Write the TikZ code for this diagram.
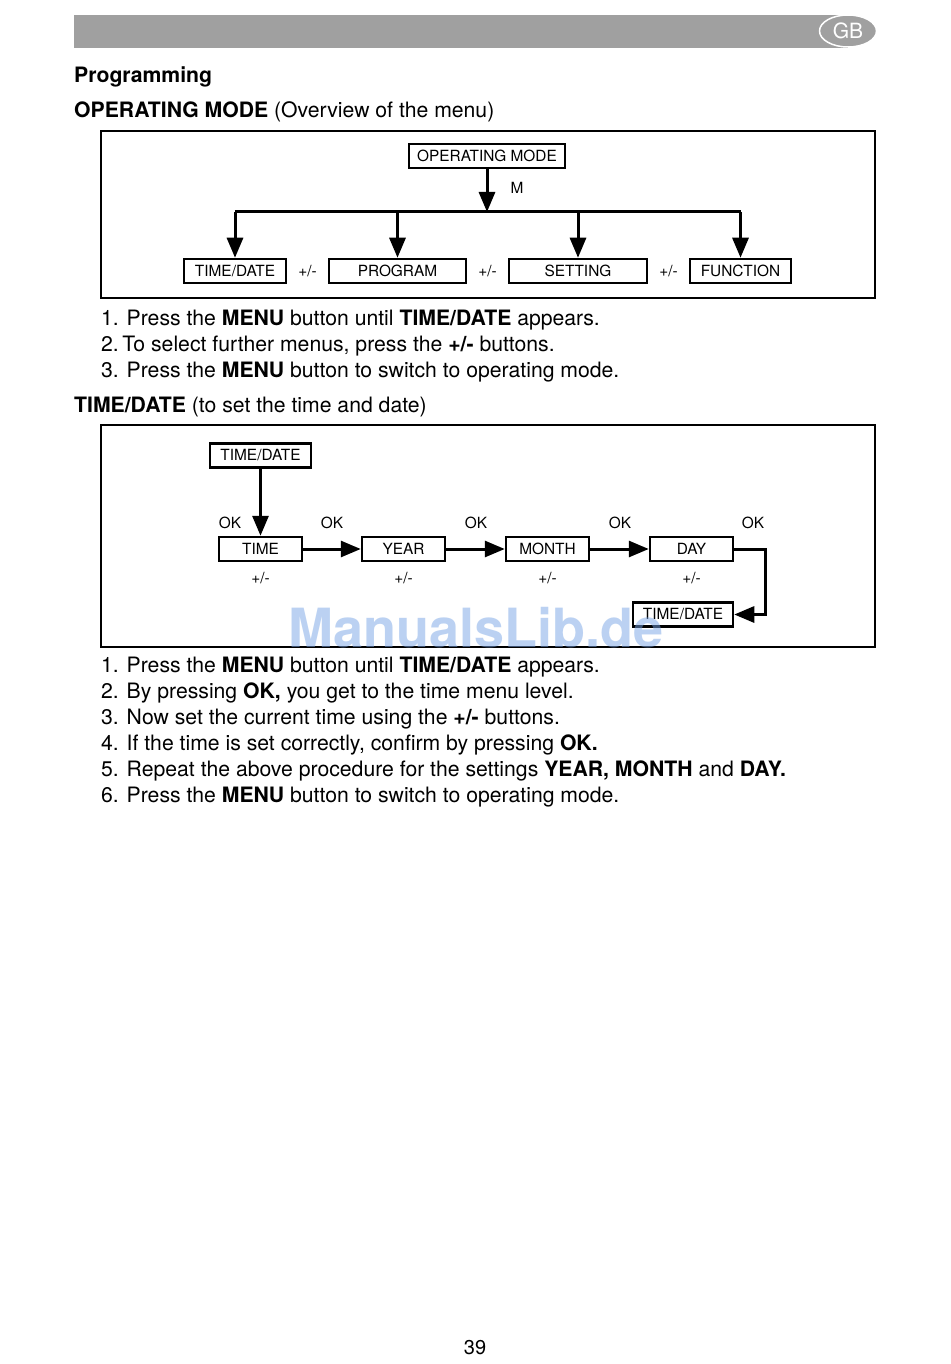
\documentclass[tikz,border=0pt]{standalone}
\usepackage{fontspec}
\setmainfont{TeX Gyre Heros}
\usetikzlibrary{arrows.meta,positioning,calc,shapes.geometric}

\definecolor{bargray}{RGB}{160,160,160}
\definecolor{wmblue}{RGB}{120,165,230}

\tikzset{
  menubox/.style={draw,line width=2.5pt,minimum height=24pt,inner sep=0pt,
    font=\fontsize{15.4}{16}\selectfont},
  lbl/.style={inner sep=0pt,font=\fontsize{15.4}{16}\selectfont},
  arr/.style={line width=3pt,-{Triangle[width=16pt,length=20pt]}},
  txt/.style={anchor=base west,inner sep=0pt,font=\fontsize{21.2}{24}\selectfont}
}

\begin{document}
\begin{tikzpicture}[x=1pt,y=-1pt]
\fill[white] (0,0) rectangle (950,1364);
\useasboundingbox (0,0) rectangle (950,1364);

%header
\fill[bargray] (74,15) rectangle (848,48);
\node[ellipse,draw=white,line width=1.5pt,fill=bargray,minimum width=57pt,
  minimum height=32pt,inner sep=0pt,text=white,font=\fontsize{21}{21}\selectfont]
  (gb) at (848,31) {GB};

\node[txt] (prog) at (74,83) {\textbf{Programming}};
\node[txt] (head1) at (74,118) {\textbf{OPERATING MODE} (Overview of the menu)};

%menu overview
\draw[line width=2pt] (101,131) rectangle (875,298);
\node[menubox,minimum width=156pt] (opmode) at (487,156) {OPERATING MODE};
\node[menubox,minimum width=102pt] (timedate) at (235,271) {TIME/DATE};
\node[menubox,minimum width=137pt] (program) at (397.5,271) {PROGRAM};
\node[menubox,minimum width=138pt] (setting) at (578,271) {SETTING};
\node[menubox,minimum width=101pt] (function) at (740.5,271) {FUNCTION};
\coordinate (split) at (487,212);

\draw[arr] (opmode) -- (split);
\node[lbl] (m) at (517,188) {M};
\draw[line width=3pt] (timedate.north |- split) -- (function.north |- split);
\foreach \n in {timedate,program,setting,function}
  \draw[arr] (\n.north |- split) -- (\n.north);

\node[lbl] (pm1) at ($(timedate.east)!.5!(program.west)$) {+/-};
\node[lbl] (pm2) at ($(program.east)!.5!(setting.west)$) {+/-};
\node[lbl] (pm3) at ($(setting.east)!.5!(function.west)$) {+/-};

\node[txt] (a1) at (101,325) {1. Press the \textbf{MENU} button until \textbf{TIME/DATE} appears.};
\node[txt] (a2) at (101,351) {2.\,To select further menus, press the \textbf{+/-} buttons.};
\node[txt] (a3) at (101,377) {3. Press the \textbf{MENU} button to switch to operating mode.};

\node[txt] (head2) at (74,412) {\textbf{TIME/DATE} (to set the time and date)};

%time and date
\draw[line width=2pt] (101,425) rectangle (875,647);
\node[menubox,minimum width=101pt] (td) at (260.5,455.5) {TIME/DATE};
\node[menubox,minimum width=83pt] (time) at (260.5,549) {TIME};
\node[menubox,minimum width=83pt] (year) at (403.5,549) {YEAR};
\node[menubox,minimum width=83pt] (month) at (547.5,549) {MONTH};
\node[menubox,minimum width=83pt] (day) at (691.5,549) {DAY};
\node[menubox,minimum width=100pt] (tdback) at (683,614.5) {TIME/DATE};
\coordinate (turn) at (765,549);

\draw[arr] (td) -- (time);
\draw[arr] (time) -- (year);
\draw[arr] (year) -- (month);
\draw[arr] (month) -- (day);
\draw[arr,line join=miter] (day.east) -- (turn) |- (tdback.east);

\node[lbl] (ok1) at (230,523) {OK};
\node[lbl] (ok2) at (332,523) {OK};
\node[lbl] (ok3) at (476,523) {OK};
\node[lbl] (ok4) at (620,523) {OK};
\node[lbl] (ok5) at (753,523) {OK};
\foreach \n in {time,year,month,day}
  \node[lbl] at (\n |- 0,578) {+/-};

\node[text=wmblue,text opacity=0.5,inner sep=0pt,
  font=\bfseries\fontsize{54}{54}\selectfont] (wm) at (476,628) {ManualsLib.de};

\node[txt] (b1) at (101,672) {1. Press the \textbf{MENU} button until \textbf{TIME/DATE} appears.};
\node[txt] (b2) at (101,698) {2. By pressing \textbf{OK,} you get to the time menu level.};
\node[txt] (b3) at (101,724) {3. Now set the current time using the \textbf{+/-} buttons.};
\node[txt] (b4) at (101,750) {4. If the time is set correctly, confirm by pressing \textbf{OK.}};
\node[txt] (b5) at (101,776) {5. Repeat the above procedure for the settings \textbf{YEAR, MONTH} and \textbf{DAY.}};
\node[txt] (b6) at (101,802) {6. Press the \textbf{MENU} button to switch to operating mode.};

\node[inner sep=0pt,anchor=base,font=\fontsize{20}{24}\selectfont] (page) at (475,1354) {39};
\end{tikzpicture}
\end{document}
